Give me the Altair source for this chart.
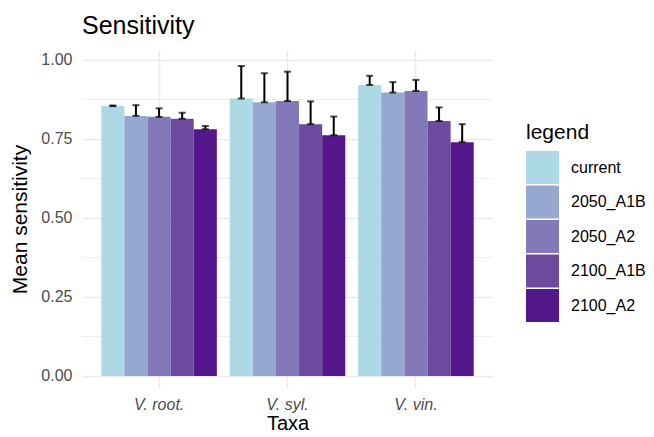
import altair as alt
import pandas as pd

taxa = ["V. root.", "V. syl.", "V. vin."]
scenarios = ["current", "2050_A1B", "2050_A2", "2100_A1B", "2100_A2"]
colors = ["#ADD8E6", "#97A8D0", "#8279B8", "#6C4B9E", "#54188B"]

mean_root = [0.854, 0.823, 0.820, 0.814, 0.781]
mean_syl = [0.878, 0.866, 0.870, 0.797, 0.762]
mean_vin = [0.921, 0.897, 0.902, 0.807, 0.740]

err_root = [0.002, 0.034, 0.027, 0.019, 0.010]
err_syl = [0.103, 0.092, 0.093, 0.072, 0.059]
err_vin = [0.029, 0.033, 0.035, 0.043, 0.057]

y_ticks = [0.0, 0.25, 0.5, 0.75, 1.0]
y_minor = [0.125, 0.375, 0.625, 0.875]

rows = []
for t, ms, es in zip(taxa, [mean_root, mean_syl, mean_vin], [err_root, err_syl, err_vin]):
    for s, m, e in zip(scenarios, ms, es):
        rows.append({"taxa": t, "legend": s, "mean": m, "upper": m + e})
df = pd.DataFrame(rows)
minor_df = pd.DataFrame({"mean": y_minor})

FONT = "Liberation Sans"

x_enc = alt.X(
    "taxa:N",
    sort=taxa,
    scale=alt.Scale(paddingInner=0.1, paddingOuter=0.15),
    axis=alt.Axis(
        title="Taxa",
        labelAngle=0,
        labelFontStyle="italic",
        grid=True,
        bandPosition=0.5,
        labelPadding=8,
        titlePadding=1,
        titleFontSize=20,
    ),
)
xoff = alt.XOffset("legend:N", sort=scenarios, scale=alt.Scale(paddingInner=0, paddingOuter=0))
y_scale = alt.Scale(domain=[-0.038, 1.0316], nice=False, zero=False)
y_enc = alt.Y(
    "mean:Q",
    scale=y_scale,
    axis=alt.Axis(
        values=y_ticks,
        format=".2f",
        title="Mean sensitivity",
        labelPadding=10,
        titlePadding=10,
    ),
)

minor = alt.Chart(minor_df).mark_rule(color="#EBEBEB", strokeWidth=0.8).encode(
    y=alt.Y("mean:Q", scale=y_scale)
)

bars = alt.Chart(df).mark_bar().encode(
    x=x_enc,
    xOffset=xoff,
    y=y_enc,
    y2=alt.datum(0),
    color=alt.Color(
        "legend:N",
        sort=scenarios,
        scale=alt.Scale(domain=scenarios, range=colors),
        legend=alt.Legend(
            title="legend",
            orient="none",
            legendX=444,
            legendY=72,
            symbolType="square",
            symbolSize=1089,
            symbolStrokeWidth=0,
            symbolOpacity=1,
            rowPadding=1.5,
            labelOffset=12,
            titlePadding=8,
        ),
    ),
)

rule = alt.Chart(df).mark_rule(color="black", strokeWidth=2).encode(
    x=alt.X("taxa:N", sort=taxa),
    xOffset=xoff,
    y=alt.Y("mean:Q"),
    y2="upper:Q",
)
cap_lo = alt.Chart(df).mark_tick(color="black", thickness=2, size=7).encode(
    x=alt.X("taxa:N", sort=taxa),
    xOffset=xoff,
    y=alt.Y("mean:Q"),
)
cap_hi = alt.Chart(df).mark_tick(color="black", thickness=2, size=7).encode(
    x=alt.X("taxa:N", sort=taxa),
    xOffset=xoff,
    y=alt.Y("upper:Q"),
)

chart = (
    alt.layer(minor, bars, rule, cap_lo, cap_hi)
    .properties(
        width=411,
        height=338,
        autosize=alt.AutoSizeParams(type="none"),
        padding={"left": 74, "top": 42, "right": 153, "bottom": 49},
        title=alt.TitleParams(
            "Sensitivity",
            anchor="start",
            frame="group",
            baseline="alphabetic",
            offset=15,
            dy=24,
            fontSize=25,
            fontWeight="normal",
            font=FONT,
            color="black",
        ),
        background="white",
    )
    .configure_view(stroke=None)
    .configure_axis(
        domain=False,
        ticks=False,
        gridColor="#EBEBEB",
        gridWidth=1.5,
        labelFont=FONT,
        titleFont=FONT,
        labelColor="#4D4D4D",
        labelFontSize=16,
        titleFontSize=21,
        titleColor="black",
        titleFontWeight="normal",
    )
    .configure_legend(
        labelFont=FONT,
        titleFont=FONT,
        labelFontSize=16,
        titleFontSize=21,
        labelColor="black",
        titleColor="black",
        titleFontWeight="normal",
    )
)

chart.save("out.html", embed_options={"renderer": "svg", "actions": False})
